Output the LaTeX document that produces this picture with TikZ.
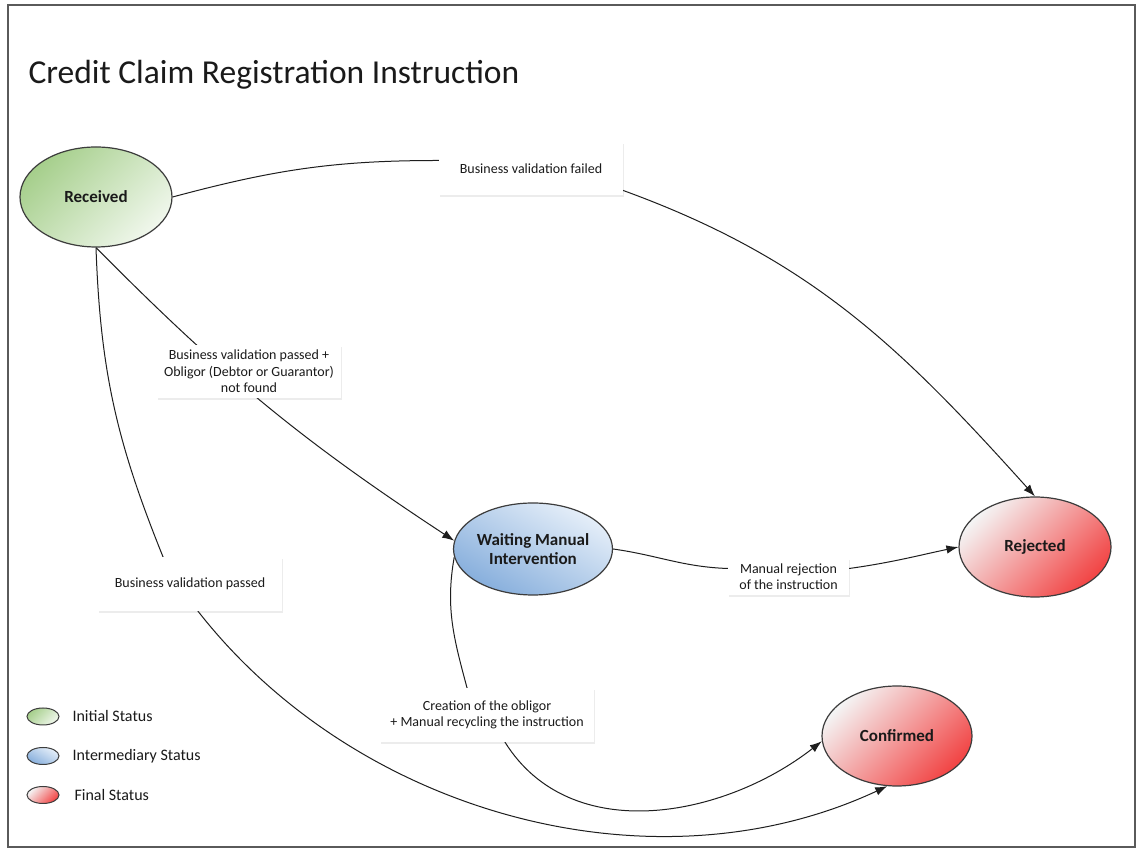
\documentclass[tikz,border=0pt]{standalone}
\usepackage{fontspec}
\setmainfont{Carlito}
\usetikzlibrary{arrows.meta,shapes.geometric,shadows,backgrounds}
\definecolor{framec}{HTML}{5A5A5A}
\definecolor{linec}{HTML}{1E1E1E}
\definecolor{borderc}{HTML}{3C3C3C}
\definecolor{gdark}{HTML}{A6CF8C}
\definecolor{glight}{HTML}{F0F7EC}
\definecolor{bdark}{HTML}{86AEDC}
\definecolor{blight}{HTML}{E6EFF9}
\definecolor{rdark}{HTML}{F24444}
\definecolor{rlight}{HTML}{F4F4F4}
\definecolor{textc}{HTML}{1A1A1A}
\begin{document}
\begin{tikzpicture}[x=1pt,y=1pt,
 state/.style={ellipse, draw=borderc, line width=1.2pt, inner sep=0pt, minimum width=152pt, minimum height=100pt, align=center, font=\fontsize{17}{19}\selectfont\bfseries, text=textc},
 initfill/.style={top color=gdark, bottom color=glight, shading angle=45},
 midfill/.style={top color=blight, bottom color=bdark, shading angle=-30},
 finfill/.style={top color=rlight, bottom color=rdark, shading angle=45},
 lbl/.style={fill=white, inner sep=0pt, align=center, font=\fontsize{14}{16.5}\selectfont, text=textc, drop shadow={shadow xshift=1pt, shadow yshift=-2pt, opacity=0.12, fill=black!60}},
 conn/.style={draw=linec, line width=1pt},
 arr/.style={conn, -{Latex[length=12pt,width=8.5pt]}},
 legend/.style={ellipse, draw=borderc, line width=1pt, minimum width=32pt, minimum height=17pt, inner sep=0pt},
 legtext/.style={anchor=west, font=\fontsize{16}{18}\selectfont, text=textc},
]
\useasboundingbox (0,0) rectangle (1139,850);
\draw[framec, line width=1.5pt] (8,3) rectangle (1135,845);

\node[anchor=base west, font=\fontsize{33.5}{38}\selectfont, text=textc] (title) at (25,766) {Credit Claim Registration Instruction};

\node[state, initfill] (rec) at (96,653) {Received};
\node[state, midfill, minimum height=92pt] (wait) at (533,301) {Waiting Manual\\Intervention};
\node[state, finfill] (rej) at (1035,303) {Rejected};
\node[state, finfill, minimum width=150pt] (conf) at (897,114) {Confirmed};

\node[lbl, minimum width=184pt, minimum height=53pt] (l1) at (531,681.5) {Business validation failed};
\node[lbl, minimum width=184pt, minimum height=53pt] (l2) at (249,478.5) {Business validation passed +\\Obligor (Debtor or Guarantor)\\not found};
\node[lbl, minimum width=184pt, minimum height=54pt] (l3) at (190,266) {Business validation passed};
\node[lbl, minimum width=121pt, minimum height=37pt] (l4) at (788.5,273.5) {Manual rejection\\of the instruction};
\node[lbl, minimum width=214pt, minimum height=54pt] (l5) at (487,135) {Creation of the obligor\\+ Manual recycling the instruction};

\node[legend, initfill] (lg1) at (43,133.5) {};
\node[legtext] (lt1) at (69,133.5) {Initial Status};
\node[legend, midfill] (lg2) at (43,94) {};
\node[legtext] (lt2) at (69,94) {Intermediary Status};
\node[legend, finfill] (lg3) at (43,55) {};
\node[legtext] (lt3) at (71,55) {Final Status};

\begin{scope}[on background layer]
\fill[white] (0,0) rectangle (1139,850);
\draw[arr] (rec.east) to[out=15,in=180] ([yshift=8pt]l1.west) -- ([yshift=-22pt]l1.east) to[out=-20,in=132] (rej.north);
\draw[arr] (rec.south) to[bend right=6] (wait.174);
\draw[arr] (rec.south) to[out=-88,in=112] ([xshift=-27pt]l3.north) -- ([xshift=8pt]l3.south) to[out=-52,in=205,looseness=0.93] (conf.259);
\draw[arr] (wait.east) to[out=-8,in=178] ([yshift=8pt]l4.west) -- ([yshift=8pt]l4.east) to[out=8,in=192] (rej.west);
\draw[arr] (wait.186) to[out=-100,in=105] ([xshift=-20pt]l5.north) -- ([xshift=18pt]l5.south) to[out=-58,in=218] (conf.184);
\end{scope}
\end{tikzpicture}
\end{document}
